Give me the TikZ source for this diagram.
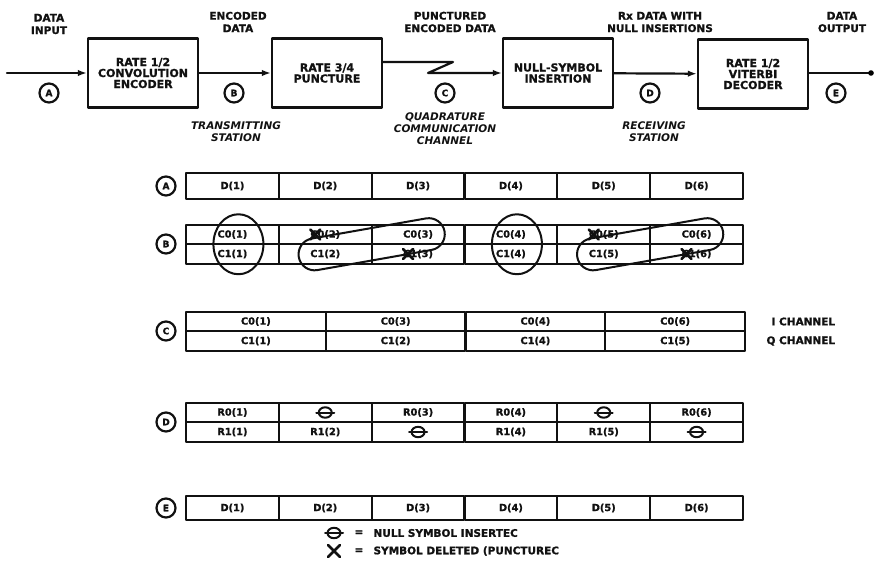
\documentclass[tikz,border=0pt]{standalone}
\usepackage{fontspec}
\setmainfont[BoldFeatures={FakeBold=1.2}]{DejaVu Sans}
\usetikzlibrary{arrows.meta,calc,positioning}
\definecolor{pcInk}{HTML}{111111}
\tikzset{
 punct/.style={x=1pt,y=-1pt,line cap=round,line join=round,draw=pcInk,text=pcInk,font=\bfseries},
 block/.style={rectangle,draw,line width=2.4pt,minimum width=110pt,minimum height=69pt,align=center,
   font=\bfseries\fontsize{11}{11}\selectfont},
 tag/.style={circle,draw,line width=2.2pt,minimum size=19pt,inner sep=0pt,font=\bfseries\fontsize{9}{9}\selectfont},
 caption/.style={align=center,font=\bfseries\fontsize{10.5}{12.5}\selectfont},
 station/.style={align=center,font=\bfseries\itshape\fontsize{10.5}{12}\selectfont},
 slot/.style={rectangle,draw,line width=2pt,inner sep=0pt,minimum height=19.5pt,font=\bfseries\fontsize{9.8}{9.8}\selectfont},
 signal/.style={line width=2.2pt,-{Latex[length=9pt,width=6.5pt]}},
 wire/.style={line width=2.2pt},
 ring/.style={line width=2pt},
 legend/.style={anchor=west,font=\bfseries\fontsize{10.5}{10.5}\selectfont}
}
\newcommand{\nullSym}[1]{%
 \draw[ring] (#1) ellipse (6.5pt and 5.2pt);
 \draw[ring] ($(#1)+(-9,0)$) -- ($(#1)+(9,0)$);}
\newcommand{\cutSym}[2]{%
 \draw[ring,line width=2.6pt] ($(#1)+(-#2,-#2)$) -- ($(#1)+(#2,#2)$) ($(#1)+(-#2,#2)$) -- ($(#1)+(#2,-#2)$);}

\begin{document}
\begin{tikzpicture}[punct]
 \useasboundingbox (0,0) rectangle (874,586);
 \node[block] (enc) at (143,73) {RATE 1/2\\CONVOLUTION\\ENCODER};
 \node[block] (pnc) at (327,73) {RATE 3/4\\PUNCTURE};
 \node[block] (nsi) at (558,73) {NULL-SYMBOL\\INSERTION};
 \node[block] (vit) at (753,74) {RATE 1/2\\VITERBI\\DECODER};
 \coordinate (src) at (7,73);
 \coordinate (snk) at (871,73);
 \coordinate (z1) at (453,62);
 \coordinate (z2) at (428,73);
 \draw[signal] (src) -- (enc);
 \draw[signal] (enc) -- (pnc);
 \draw[signal] (pnc.east |- z1) -- (z1) -- (z2) -- (z2 -| nsi.west);
 \draw[signal] (nsi) -- (vit);
 \draw[wire] (vit.east |- snk) -- (snk);
 \fill (snk) circle (2.8pt);
 \foreach \n/\x/\t in {ta/49/A,tb/234/B,tc/445/C,td/650/D,te/836/E}{\node[tag] (\n) at (\x,93) {\t};}
 \node[caption] (inp) at (49,24) {DATA\\INPUT};
 \node[caption] (edt) at (238,22) {ENCODED\\DATA};
 \node[caption] (ped) at (450,22) {PUNCTURED\\ENCODED DATA};
 \node[caption] (rxd) at (660,22) {Rx DATA WITH\\NULL INSERTIONS};
 \node[caption] (oup) at (842,22) {DATA\\OUTPUT};
 \node[station] (txs) at (236,132) {TRANSMITTING\\STATION};
 \node[station] (qcc) at (445,129) {QUADRATURE\\COMMUNICATION\\CHANNEL};
 \node[station] (rcs) at (654,132) {RECEIVING\\STATION};
 % rows A to E
 \foreach \n/\y/\t in {ra/186/A,rb/244/B,rc/331/C,rd/422/D,re/508/E}{\node[tag] (\n) at (166,\y) {\t};}
 \foreach \i in {1,...,6}{
  \node[slot,minimum width=92.8pt,minimum height=26pt] (a\i) at ({186+92.83*(\i-.5)},186) {D(\i)};
  \node[slot,minimum width=92.8pt] (bu\i) at ({186+92.83*(\i-.5)},234.5) {C0(\i)};
  \node[slot,minimum width=92.8pt] (bl\i) at ({186+92.83*(\i-.5)},254) {C1(\i)};
  \node[slot,minimum width=92.8pt,minimum height=24pt] (e\i) at ({186+92.83*(\i-.5)},508) {D(\i)};}
 \foreach \i/\t/\s in {1/C0(1)/C1(1),2/C0(3)/C1(2),3/C0(4)/C1(4),4/C0(6)/C1(5)}{
  \node[slot,minimum width=139.7pt] (cu\i) at ({186+139.75*(\i-.5)},321.5) {\t};
  \node[slot,minimum width=139.7pt] (cl\i) at ({186+139.75*(\i-.5)},341) {\s};}
 \node[caption,anchor=west] (ich) at (768,321.5) {I CHANNEL};
 \node[caption,anchor=west] (qch) at (763,341) {Q CHANNEL};
 \foreach \i/\t/\s in {1/R0(1)/R1(1),2//R1(2),3/R0(3)/,4/R0(4)/R1(4),5//R1(5),6/R0(6)/}{
  \node[slot,minimum width=92.8pt] (du\i) at ({186+92.83*(\i-.5)},412.5) {\t};
  \node[slot,minimum width=92.8pt] (dl\i) at ({186+92.83*(\i-.5)},432) {\s};}
 \nullSym{du2} \nullSym{dl3} \nullSym{du5} \nullSym{dl6}
 % punctured symbols
 \foreach \c in {bu2,bl3,bu5,bl6}{\cutSym{$(\c)+(-10,0)$}{5}}
 \foreach \k in {1,4}{\draw[ring] ($(bu\k)!.5!(bl\k)+(6,0)$) ellipse (25pt and 30pt);}
 \node[draw,ring,rounded corners=16pt,minimum width=148pt,minimum height=32pt,rotate=10] (k23) at ($(bl2)!.5!(bu3)$) {};
 \node[draw,ring,rounded corners=16pt,minimum width=148pt,minimum height=32pt,rotate=10] (k56) at ($(bl5)!.5!(bu6)$) {};
 % legend
 \coordinate (lnul) at (334,533);
 \coordinate (lcut) at (334,551);
 \nullSym{lnul}
 \cutSym{lcut}{6}
 \node[legend] (leq1) at (351,533) {=};
 \node[legend] (leq2) at (351,551) {=};
 \node[legend] (ltx1) at (370,533) {NULL SYMBOL INSERTEC};
 \node[legend] (ltx2) at (370,551) {SYMBOL DELETED (PUNCTUREC};
\end{tikzpicture}
\end{document}
